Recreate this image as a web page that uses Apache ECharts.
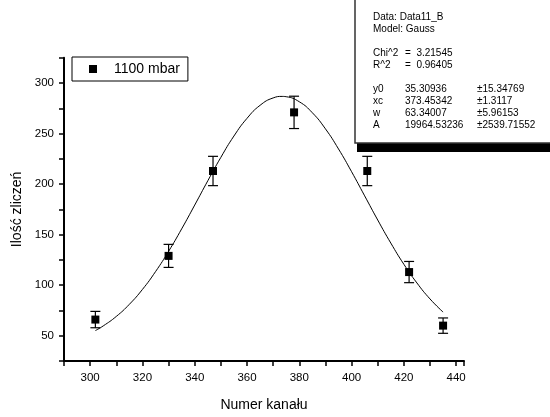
<!DOCTYPE html>
<html>
<head>
<meta charset="utf-8">
<script src="https://cdn.jsdelivr.net/npm/echarts@6/dist/echarts.min.js"></script>
<style>html,body{margin:0;padding:0;background:#fff;}#c{width:550px;height:417px;}</style>
</head>
<body>
<div id="c"></div>
<script>
// Measured points (channel, counts, error)
const pointX = [302, 330, 347, 378, 406, 422, 435];
const pointY = [66, 129, 213, 271, 213, 113, 60];
const pointErr = [8.1, 11.4, 14.5, 16, 14.5, 10.5, 7.6];
// Fitted Gauss curve
const curveX = [302, 305, 310, 315, 320, 325, 330, 335, 340, 345, 350, 355, 360, 365, 370, 373.45, 375, 380, 385, 390, 395, 400, 405, 410, 415, 420, 425, 430, 435];
const curveY = [55.1, 59.7, 69.1, 81.1, 95.8, 113.4, 133.5, 155.7, 179.3, 203.3, 226.5, 247.6, 265.1, 278.0, 285.3, 286.8, 286.5, 281.5, 270.6, 254.7, 234.8, 212.3, 188.4, 164.5, 141.7, 120.7, 102.2, 86.4, 73.4];
const xTicks = [300, 320, 340, 360, 380, 400, 420, 440];
const yTicks = [50, 100, 150, 200, 250, 300];
const seriesName = '1100 mbar';
const infoLines = [
  ['Data: Data11_B', '', ''],
  ['Model: Gauss', '', ''],
  ['', '', ''],
  ['Chi^2', '=  3.21545', ''],
  ['R^2', '=  0.96405', ''],
  ['', '', ''],
  ['y0', '35.30936', '\u00b115.34769'],
  ['xc', '373.45342', '\u00b11.3117'],
  ['w', '63.34007', '\u00b15.96153'],
  ['A', '19964.53236', '\u00b12539.71552']
];

const FONT = '"Liberation Sans", Arial, sans-serif';
const chart = echarts.init(document.getElementById('c'), null, {renderer: 'canvas'});

const pts = pointX.map((x, i) => [x, pointY[i]]);
const errData = pointX.map((x, i) => [x, pointY[i], pointErr[i]]);
const curve = curveX.map((x, i) => [x, curveY[i]]);

const graphics = [
  {type: 'rect', shape: {x: 357, y: -10, width: 220, height: 162}, style: {fill: '#000'}, z: 100},
  {type: 'rect', shape: {x: 355, y: -10, width: 220, height: 153}, style: {fill: '#fff', stroke: '#333', lineWidth: 1.5}, z: 101}
];
const colX = [373, 405, 477];
infoLines.forEach((row, i) => {
  const y = 17 + i * 12;
  row.forEach((t, j) => {
    if (!t) return;
    graphics.push({type: 'text', x: colX[j], y: y, z: 102,
      style: {text: t, fill: '#000', font: '10px ' + FONT, textVerticalAlign: 'middle', textAlign: 'left'}});
  });
});

chart.setOption({
  animation: false,
  backgroundColor: '#fff',
  grid: {left: 64, right: 86, top: 57.8, bottom: 54, containLabel: false},
  legend: {
    data: [{name: seriesName, icon: 'rect', itemStyle: {color: '#000', opacity: 1}}],
    left: 72, top: 57,
    orient: 'vertical',
    padding: [5, 8, 5, 17],
    itemWidth: 8, itemHeight: 8,
    borderColor: '#000', borderWidth: 1,
    backgroundColor: '#fff',
    textStyle: {fontFamily: FONT, fontSize: 14, color: '#000', padding: [0, 0, 0, 12]}
  },
  xAxis: {
    type: 'value', min: 290, max: 443, interval: 10,
    name: 'Numer kanału', nameLocation: 'middle', nameGap: 37,
    nameTextStyle: {fontFamily: FONT, fontSize: 14, color: '#000'},
    axisLine: {show: true, onZero: false, lineStyle: {color: '#000', width: 2}},
    axisTick: {show: true, inside: false, length: 5, lineStyle: {color: '#000', width: 1.5}},
    axisLabel: {fontFamily: FONT, fontSize: 11.5, color: '#000', margin: 11,
      formatter: v => xTicks.indexOf(v) >= 0 ? String(v) : ''},
    splitLine: {show: false}
  },
  yAxis: {
    type: 'value', min: 25, max: 325, interval: 25,
    name: 'Ilość zliczeń', nameLocation: 'middle', nameGap: 40,
    nameTextStyle: {fontFamily: FONT, fontSize: 14, color: '#000'},
    axisLine: {show: true, onZero: false, lineStyle: {color: '#000', width: 2}},
    axisTick: {show: true, inside: false, length: 5, lineStyle: {color: '#000', width: 1.5}},
    axisLabel: {fontFamily: FONT, fontSize: 11.5, color: '#000', margin: 10,
      formatter: v => yTicks.indexOf(v) >= 0 ? String(v) : ''},
    splitLine: {show: false}
  },
  series: [
    {
      type: 'line', name: 'fit', data: curve, smooth: true, showSymbol: false,
      lineStyle: {color: '#000', width: 1}, z: 2, silent: true
    },
    {
      type: 'custom', name: 'err', data: errData, z: 3,
      encode: {x: 0, y: 1},
      renderItem: function (params, api) {
        const x = api.value(0), y = api.value(1), e = api.value(2);
        const hi = api.coord([x, y + e]);
        const lo = api.coord([x, y - e]);
        const hw = 5;
        const st = {stroke: '#000', lineWidth: 1.2};
        return {type: 'group', children: [
          {type: 'line', shape: {x1: hi[0], y1: hi[1], x2: lo[0], y2: lo[1]}, style: st},
          {type: 'line', shape: {x1: hi[0] - hw, y1: hi[1], x2: hi[0] + hw, y2: hi[1]}, style: st},
          {type: 'line', shape: {x1: lo[0] - hw, y1: lo[1], x2: lo[0] + hw, y2: lo[1]}, style: st}
        ]};
      }
    },
    {
      type: 'scatter', name: seriesName, data: pts, symbol: 'rect', symbolSize: 8,
      itemStyle: {color: '#000', opacity: 1}, z: 4
    }
  ],
  graphic: graphics
});
</script>
</body>
</html>
